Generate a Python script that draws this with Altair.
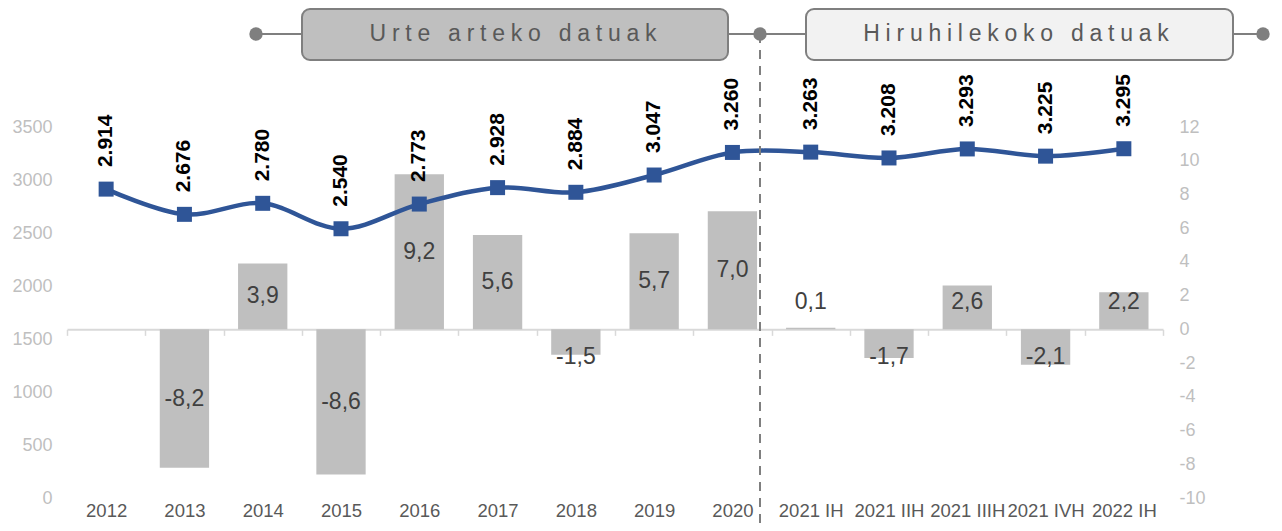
import altair as alt
import pandas as pd

categories = ["2012", "2013", "2014", "2015", "2016", "2017", "2018", "2019", "2020",
              "2021 IH", "2021 IIH", "2021 IIIH", "2021 IVH", "2022 IH"]
values = [2914, 2676, 2780, 2540, 2773, 2928, 2884, 3047, 3260, 3263, 3208, 3293, 3225, 3295]
changes = [None, -8.2, 3.9, -8.6, 9.2, 5.6, -1.5, 5.7, 7.0, 0.1, -1.7, 2.6, -2.1, 2.2]
left_ticks = [0, 500, 1000, 1500, 2000, 2500, 3000, 3500]
right_ticks = [-10, -8, -6, -4, -2, 0, 2, 4, 6, 8, 10, 12]
header_left = "Urte arteko datuak"
header_right = "Hiruhilekoko datuak"

df = pd.DataFrame({"cat": categories, "val": values, "chg": changes})
df["val_label"] = [f"{v:,}".replace(",", ".") for v in values]
df["chg_label"] = ["" if pd.isna(c) else f"{c:.1f}".replace(".", ",") for c in changes]

W, H = 1096, 371
FONT = "Liberation Sans"
ZERO_OFF = H * 10 / 22

x = alt.X("cat:N", sort=categories, title=None,
          scale=alt.Scale(paddingInner=0, paddingOuter=0),
          axis=alt.Axis(orient="bottom", offset=-ZERO_OFF, domainColor="#D9D9D9",
                        domainWidth=2, tickColor="#D9D9D9", tickSize=6, tickWidth=1.5,
                        tickBand="extent", labelAngle=0, labelColor="#595959",
                        labelFontSize=18.5, labelFont=FONT, labelPadding=166,
                        labelOverlap=False, labelLimit=200, grid=False))

chg_scale = alt.Scale(domain=[-10, 12], nice=False, zero=False)
chg_axis = alt.Axis(orient="right", values=right_ticks, domain=False, ticks=False,
                    grid=False, labelColor="#BFBFBF", labelFontSize=18,
                    labelFont=FONT, labelPadding=16, labelExpr="'' + datum.value")
y_chg = alt.Y("chg:Q", title=None, scale=chg_scale, axis=chg_axis)
y_val = alt.Y("val:Q", title=None,
              scale=alt.Scale(domain=[0, 3500], nice=False, zero=False),
              axis=alt.Axis(orient="left", values=left_ticks, domain=False, ticks=False,
                            grid=False, labelColor="#BFBFBF", labelFontSize=18,
                            labelFont=FONT, labelPadding=15, labelExpr="'' + datum.value"))

base = alt.Chart(df)

bars = base.transform_filter("isValid(datum.chg)").mark_bar(
    color="#BFBFBF", width=alt.RelativeBandSize(0.63)
).encode(x=x, y=y_chg)

bar_labels = base.transform_filter("isValid(datum.chg)").transform_calculate(
    lab_y="datum.chg >= 0 ? max(datum.chg / 2, 1.6) : min(datum.chg / 2, -1.65)"
).mark_text(fontSize=23, font=FONT, color="#404040", baseline="middle").encode(
    x=x, y=alt.Y("lab_y:Q", title=None, scale=chg_scale, axis=chg_axis),
    text="chg_label:N")

bar_group = alt.layer(bars, bar_labels)

line = base.mark_line(color="#2F5597", strokeWidth=4.5, interpolate="cardinal").encode(x=x, y=y_val)
pts = base.mark_square(color="#2F5597", size=225, opacity=1).encode(x=x, y=y_val)
line_labels = base.mark_text(fontSize=21, font=FONT, fontWeight="bold", color="#000000",
                             angle=270, align="left", baseline="middle", dx=22).encode(
    x=x, y=y_val, text="val_label:N")

line_group = alt.layer(line, pts, line_labels)

one = alt.Data(values=[{"a": 1}])
GRAY = "#7F7F7F"
HY = -93

dashed = alt.Chart(one).mark_rule(color=GRAY, strokeWidth=2, strokeDash=[9, 7]).encode(
    x=alt.value(693), y=alt.value(HY), y2=alt.value(H + 40))

conn1 = alt.Chart(one).mark_rule(color=GRAY, strokeWidth=2).encode(
    x=alt.value(189), x2=alt.value(235), y=alt.value(HY))
conn2 = alt.Chart(one).mark_rule(color=GRAY, strokeWidth=2).encode(
    x=alt.value(661), x2=alt.value(739), y=alt.value(HY))
conn3 = alt.Chart(one).mark_rule(color=GRAY, strokeWidth=2).encode(
    x=alt.value(1166), x2=alt.value(1196), y=alt.value(HY))

dot1 = alt.Chart(one).mark_circle(color=GRAY, size=180, opacity=1).encode(
    x=alt.value(189), y=alt.value(HY))
dot2 = alt.Chart(one).mark_circle(color=GRAY, size=180, opacity=1).encode(
    x=alt.value(693), y=alt.value(HY))
dot3 = alt.Chart(one).mark_circle(color=GRAY, size=180, opacity=1).encode(
    x=alt.value(1196), y=alt.value(HY))

box1 = alt.Chart(one).mark_rect(fill="#BFBFBF", stroke=GRAY, strokeWidth=2, cornerRadius=8).encode(
    x=alt.value(235), x2=alt.value(661), y=alt.value(-118), y2=alt.value(-67))
box2 = alt.Chart(one).mark_rect(fill="#F2F2F2", stroke=GRAY, strokeWidth=2, cornerRadius=8).encode(
    x=alt.value(739), x2=alt.value(1166), y=alt.value(-118), y2=alt.value(-67))

SP = "\u2005"
def spaced(s):
    return SP.join(list(s))

txt1 = alt.Chart(one).mark_text(fontSize=23, font=FONT, color="#595959", baseline="middle",
                                 align="center", text=spaced(header_left)).encode(
    x=alt.value(446), y=alt.value(HY))
txt2 = alt.Chart(one).mark_text(fontSize=23, font=FONT, color="#595959", baseline="middle",
                                 align="center", text=spaced(header_right)).encode(
    x=alt.value(949), y=alt.value(HY))

chart = alt.layer(
    bar_group, line_group,
    dashed, conn1, conn2, conn3, box1, box2, dot1, dot2, dot3, txt1, txt2
).resolve_scale(y="independent").properties(
    width=W, height=H,
    autosize=alt.AutoSizeParams(type="none"),
    padding={"left": 59, "top": 119, "right": 111, "bottom": 25},
).configure_view(stroke=None)

chart.save("out.html", embed_options={"renderer": "svg", "actions": False})
